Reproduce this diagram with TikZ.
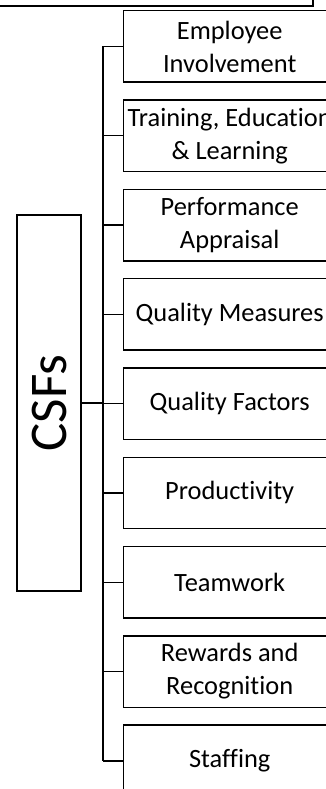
\documentclass[tikz,border=0pt]{standalone}
\usepackage{fontspec}
\setmainfont{Carlito}[Ligatures={NoCommon}]
\begin{document}
\begin{tikzpicture}[x=1pt,y=-1pt,
  item/.style={draw=black, line width=1.4pt, anchor=north west, minimum width=212pt, minimum height=71.5pt,
    align=center, inner sep=0pt, font=\fontsize{26.4}{33}\selectfont},
  conn/.style={draw=black, line width=1.4pt},
  mainbox/.style={draw=black, line width=1.4pt, minimum width=64pt, minimum height=376pt, inner sep=0pt}]
\useasboundingbox (0,0) rectangle (326,789);
\clip (0,0) rectangle (326,789);
\coordinate (tl) at (0,6);
\coordinate (tr) at (313,6);
\coordinate (tt) at (313,0);
\draw[line width=2pt] (tl) -- (tr) -- (tt);
\node[mainbox] (csf) at (49,403) {};
\node[rotate=90, font=\fontsize{53}{55}\selectfont] (csft) at (csf.center) {CSFs};
\node[item] (b1) at (123,10) {Employee\\Involvement};
\node[item] (b2) at (123,99.3) {Training, Education\\\& Learning};
\node[item] (b3) at (123,188.6) {Performance\\Appraisal};
\node[item] (b4) at (123,277.9) {Quality Measures};
\node[item] (b5) at (123,367.2) {Quality Factors};
\node[item] (b6) at (123,456.5) {Productivity};
\node[item] (b7) at (123,545.8) {Teamwork};
\node[item] (b8) at (123,635.1) {Rewards and\\Recognition};
\node[item] (b9) at (123,724.4) {Staffing};
\coordinate (tk) at (103,0);
\draw[conn] (b1.west -| tk) -- (b9.west -| tk);
\foreach \b in {b1,b2,b3,b4,b5,b6,b7,b8,b9} {
  \draw[conn] (\b.west) -- (\b.west -| tk);
}
\draw[conn] (csf.east) -- (csf.east -| tk);
\end{tikzpicture}
\end{document}
